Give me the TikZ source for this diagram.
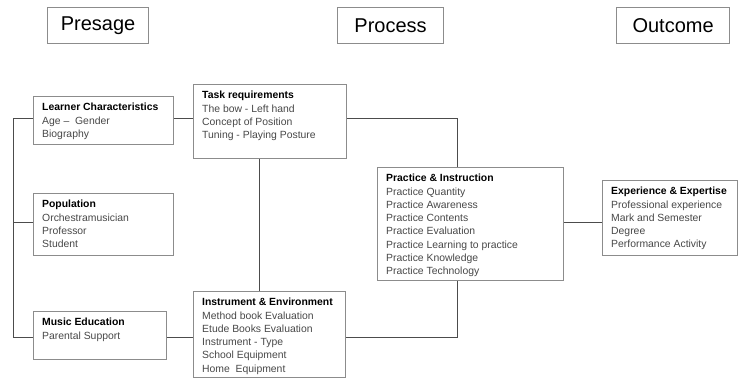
\documentclass[tikz,border=0pt]{standalone}
\usepackage{fontspec}
\setmainfont{Liberation Sans}
\usetikzlibrary{positioning}
\colorlet{boxline}{black!45}
\colorlet{conline}{black!70}
\colorlet{itemtext}{black!72}
\tikzset{
	head/.style={draw=boxline,line width=1.2,inner sep=0,anchor=north west,
		font=\fontsize{20}{24}\selectfont},
	block/.style={draw=boxline,line width=1.1,inner sep=0,anchor=north west},
	items/.style={anchor=north west,align=left,inner xsep=9,inner ysep=7,
		text=itemtext,font=\fontsize{10.4}{13.3}\selectfont},
	conn/.style={conline,line width=0.9},
}
\newcommand\boxtitle[1]{\textcolor{black}{\bfseries #1}}
\begin{document}
\begin{tikzpicture}[x=1pt,y=-1pt]
		\useasboundingbox (0,0) rectangle (739,379);
		
		\coordinate (spine) at (13,0);    % left vertical line
		\coordinate (taskx) at (259,0);   % task -- instrument line
		\coordinate (pracx) at (457,0);   % lines into practice
		\coordinate (rowA) at (0,118);
		\coordinate (rowB) at (0,222);
		\coordinate (rowC) at (0,337);
		
		% HEADERS
		\node[head,minimum width=101,minimum height=36] (presage) at (47,7) {Presage};
		\node[head,minimum width=106,minimum height=36] (process) at (337,7) {Process};
		\node[head,minimum width=113,minimum height=36] (outcome) at (616,7) {Outcome};
		
		% PRESAGE
		\node[block,minimum width=140,minimum height=48,
		label={[items]north west:{\boxtitle{Learner Characteristics}\\Age --\ \ Gender\\Biography}}]
		(learner) at (33,96) {};
		\node[block,minimum width=140,minimum height=62,
		label={[items]north west:{\boxtitle{Population}\\Orchestramusician\\Professor\\Student}}]
		(population) at (33,193) {};
		\node[block,minimum width=133,minimum height=48,
		label={[items]north west:{\boxtitle{Music Education}\\Parental Support}}]
		(music) at (33,311) {};
		
		% PROCESS
		\node[block,minimum width=153,minimum height=74,
		label={[items]north west:{\boxtitle{Task requirements}\\The bow - Left hand\\Concept of Position\\Tuning - Playing Posture}}]
		(task) at (193,84) {};
		\node[block,minimum width=152,minimum height=86,
		label={[items]north west:{\boxtitle{Instrument \& Environment}\\Method book Evaluation\\Etude Books Evaluation\\Instrument - Type\\School Equipment\\Home\ \ Equipment}}]
		(instr) at (193,291) {};
		\node[block,minimum width=186,minimum height=113,
		label={[items]north west:{\boxtitle{Practice \& Instruction}\\Practice Quantity\\Practice Awareness\\Practice Contents\\Practice Evaluation\\Practice Learning to practice\\Practice Knowledge\\Practice Technology}}]
		(practice) at (377,167) {};
		
		% OUTCOME
		\node[block,minimum width=135,minimum height=75,
		label={[items]north west:{\boxtitle{Experience \& Expertise}\\Professional experience\\Mark and Semester\\Degree\\Performance Activity}}]
		(experience) at (602,180) {};
		
		% LINES
		\draw[conn] (learner.west |- rowA) -| (spine |- rowC) -- (music.west |- rowC);
		\draw[conn] (population.west |- rowB) -- (spine |- rowB);
		\draw[conn] (learner.east |- rowA) -- (task.west |- rowA);
		\draw[conn] (task.east |- rowA) -| (practice.north -| pracx);
		\draw[conn] (task.south -| taskx) -- (instr.north -| taskx);
		\draw[conn] (music.east |- rowC) -- (instr.west |- rowC);
		\draw[conn] (instr.east |- rowC) -| (practice.south -| pracx);
		\draw[conn] (practice.east |- rowB) -- (experience.west |- rowB);
		
	\end{tikzpicture}
\end{document}
